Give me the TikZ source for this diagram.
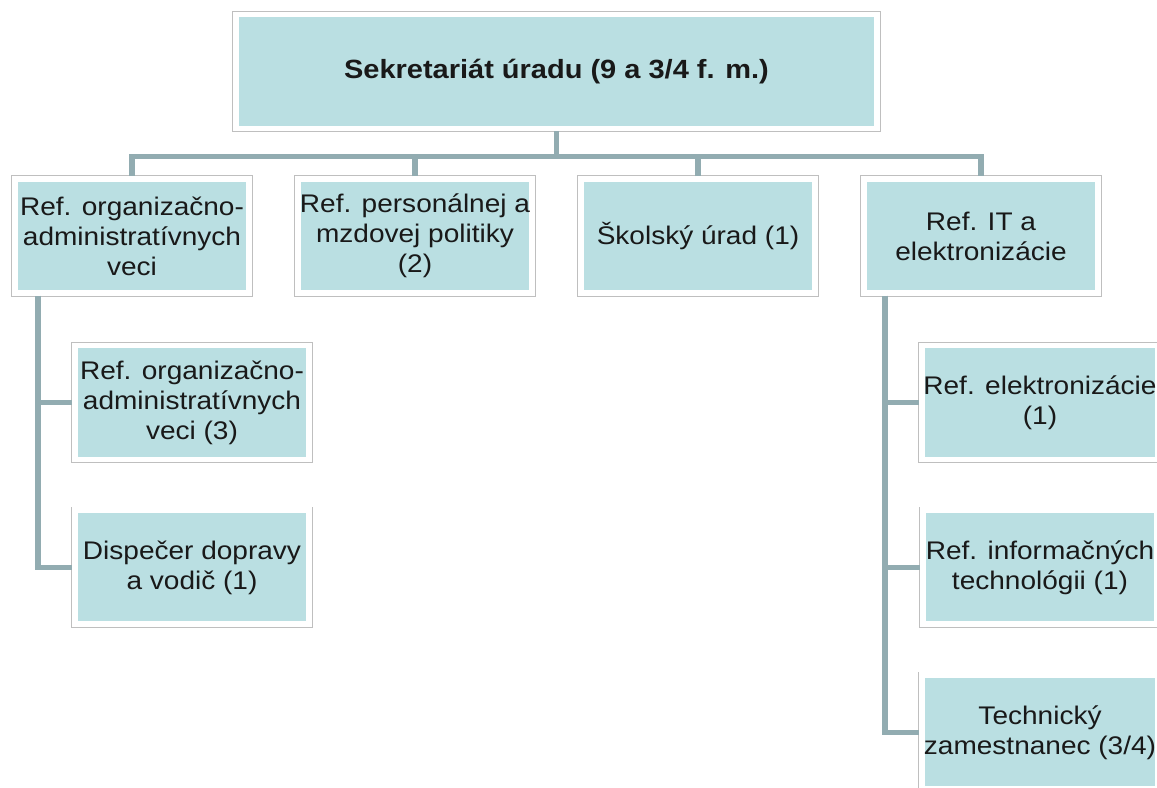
\documentclass[tikz,border=0pt]{standalone}
\usepackage{fontspec}
\setmainfont{Liberation Sans}[FakeStretch=1.1]
\usepackage{tikz}
\usetikzlibrary{positioning}
\definecolor{BoxTeal}{RGB}{186,223,226}
\definecolor{LinkTeal}{RGB}{146,172,177}
\tikzset{
    orgbox/.style={
        preaction={draw=black!25, line width=4.2pt},
        draw=white, line width=3.4pt, fill=BoxTeal, anchor=center,
        minimum width=4.68cm, minimum height=2.28cm, align=center, inner sep=1pt,
        text=black!90, font=\fontsize{14.5}{17}\selectfont
    },
    topbox/.style={
        orgbox, minimum width=12.82cm, font=\fontsize{15}{17}\selectfont\bfseries
    },
    link/.style={
        draw=LinkTeal, line width=0.11cm
    }
}

\begin{document}
\begin{tikzpicture}
                \useasboundingbox (0,0) rectangle (23.14,-15.76);
                \node[topbox] (sekr) at (11.13,-1.43) {Sekretariát úradu (9 a 3/4 f. m.)};
                % first level
                \node[orgbox] (orgadm) at (2.64,-4.72) {Ref. organizačno-\\administratívnych\\veci};
                \node[orgbox] (perso) at (8.30,-4.72) {Ref. personálnej a\\mzdovej politiky\\(2)};
                \node[orgbox] (skol) at (13.96,-4.72) {Školský úrad (1)};
                \node[orgbox] (itel) at (19.62,-4.72) {Ref. IT a\\elektronizácie};
                % second level
                \node[orgbox] (orgadm-1) at (3.84,-8.05) {Ref. organizačno-\\administratívnych\\veci (3)};
                \node[orgbox, below=0.9cm of orgadm-1] (orgadm-2) {Dispečer dopravy\\a vodič (1)};
                \node[orgbox] (itel-1) at (20.80,-8.05) {Ref. elektronizácie\\(1)};
                \node[orgbox, below=0.9cm of itel-1] (itel-2) {Ref. informačných\\technológii (1)};
                \node[orgbox, below=0.9cm of itel-2] (itel-3) {Technický\\zamestnanec (3/4)};
                % links
                \draw[link] (sekr.south) -- ++(0,-0.5) coordinate (bar);
                \draw[link] (orgadm.north) |- (bar) -| (itel.north);
                \draw[link] (perso.north) -- (perso.north |- bar);
                \draw[link] (skol.north) -- (skol.north |- bar);
                \draw[link] ([xshift=-1.88cm]orgadm.south) |- (orgadm-1.west);
                \draw[link] ([xshift=-1.88cm]orgadm.south) |- (orgadm-2.west);
                \draw[link] ([xshift=-1.92cm]itel.south) |- (itel-1.west);
                \draw[link] ([xshift=-1.92cm]itel.south) |- (itel-2.west);
                \draw[link] ([xshift=-1.92cm]itel.south) |- (itel-3.west);
            \end{tikzpicture}
\end{document}
